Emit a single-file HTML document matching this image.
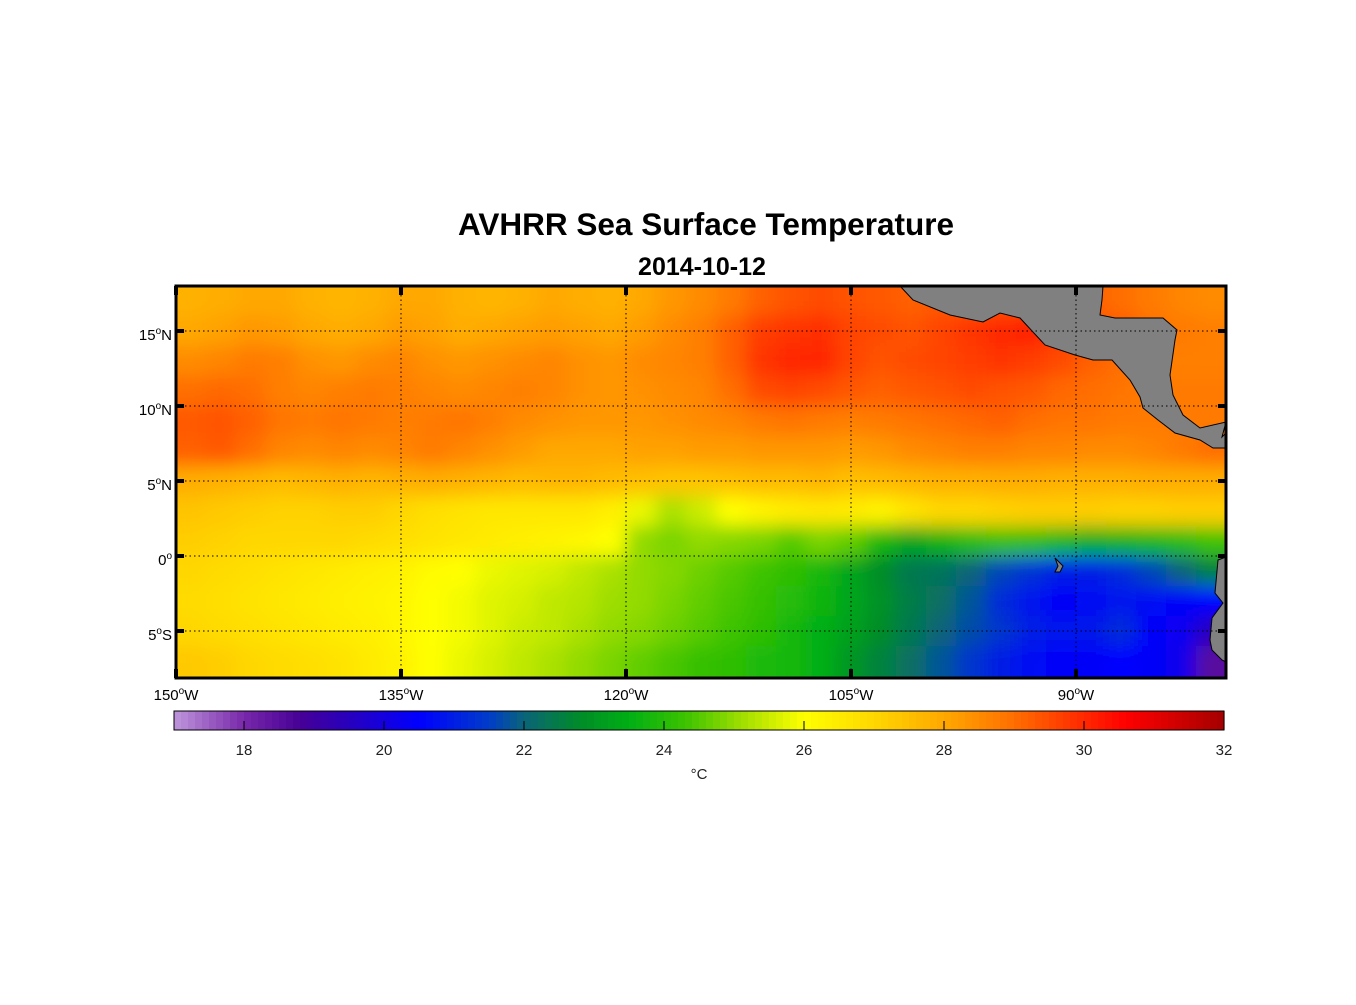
<!DOCTYPE html>
<html><head><meta charset="utf-8"><style>
body{margin:0;background:#fff;width:1356px;height:1000px;overflow:hidden;font-family:"Liberation Sans",Arial,sans-serif}
</style></head><body>
<svg id="chart" width="1356" height="1000" xmlns="http://www.w3.org/2000/svg" font-family="Liberation Sans, Arial, sans-serif">
<defs>
<clipPath id="plotclip"><rect x="176" y="286" width="1050" height="392"/></clipPath>
<filter id="blur" x="-5%" y="-5%" width="110%" height="110%"><feGaussianBlur stdDeviation="9"/></filter>
</defs>
<text x="706" y="235" text-anchor="middle" font-size="31.5" font-weight="bold">AVHRR Sea Surface Temperature</text>
<text x="702" y="275" text-anchor="middle" font-size="25" font-weight="bold">2014-10-12</text>
<g clip-path="url(#plotclip)"><g id="heat" filter="url(#blur)"></g></g>
<g id="land">
<polygon fill="#808080" stroke="#000" stroke-width="1" points="900,286 913,300 950,315 983,322 1000,313 1020,318 1045,345 1075,355 1093,360 1112,360 1130,380 1140,397 1143,408 1158,420 1175,433 1200,440 1213,448 1226,448 1226,433 1222,437 1226,422 1200,428 1183,415 1173,395 1170,375 1175,340 1177,330 1163,318 1137,318 1115,318 1100,315 1102,300 1103,286"/>
<polygon fill="#808080" stroke="#000" stroke-width="1" points="1226,557 1218,560 1215,593 1223,603 1212,618 1210,640 1212,650 1222,660 1226,662"/>
<polygon fill="#808080" stroke="#000" stroke-width="1" points="1055,558 1063,566 1060,572 1055,572 1058,566"/>
</g>
<g id="grid" stroke="#000" stroke-width="1" stroke-dasharray="1.5,3"></g>
<g id="axes"></g>
<rect x="176" y="286" width="1050" height="392" fill="none" stroke="#000" stroke-width="3"/>
<g id="cbar"></g>
<text x="699" y="779" text-anchor="middle" font-size="15" fill="#222">°C</text>
</svg>
<script>
const lonEdges=[-150,-80], latTop=18, cell=2;
const latTicks=[15,10,5,0,-5];
const latLabels=["15","10","5","0","5"];
const latSuffix=["N","N","N","",'S'];
const lonTicks=[-150,-135,-120,-105,-90];
const lonLabels=["150","135","120","105","90"];
const cbarTicks=[18,20,22,24,26,28,30,32];
const r0=[27.8,27.9,28,28,27.8,27.7,27.8,28,28,27.8,27.7,27.8,28,27.9,27.8,28,28.3,28.5,28.8,29.2,29.4,29.5,29.4,29.3,29.2,29.3,29.3,29.4,29.5,29.5,29.2,29,28.8,28.6,28.5];
const r1=[28,28.1,28.3,28.2,28,27.9,28,28.2,28.1,27.9,28,28.1,28.2,28.1,28,28.2,28.5,28.7,29.2,29.7,29.8,29.9,29.6,29.5,29.4,29.6,29.8,30,30.1,29.8,29.5,29.3,29,28.8,28.7];
const r2=[28.5,28.6,28.8,28.7,28.4,28.3,28.5,28.6,28.4,28.3,28.4,28.5,28.6,28.4,28.3,28.5,28.6,28.7,29.2,29.8,30,30,29.6,29.4,29.5,29.6,29.7,29.8,29.7,29.5,29.2,29,28.8,28.7,28.7];
const r3=[29,29.1,29,28.7,28.6,28.7,28.8,28.7,28.6,28.5,28.6,28.7,28.6,28.4,28.3,28.4,28.5,28.6,29,29.5,29.6,29.5,29.3,29.2,29.3,29.4,29.5,29.4,29.3,29.1,29,28.9,28.8,28.8,28.8];
const r4=[29.3,29.4,29.2,28.9,28.8,28.9,28.8,28.7,28.8,28.9,28.7,28.5,28.4,28.3,28.3,28.3,28.4,28.5,28.6,28.8,28.9,28.8,28.7,28.8,28.9,29,29.1,29.2,29,28.9,28.9,28.8,28.8,28.8,28.8];
const r5=[29.2,29.3,29,28.6,28.5,28.6,28.5,28.6,28.8,28.6,28.4,28.2,28,28,28,28.1,28.1,28.2,28.2,28.3,28.3,28.3,28.2,28.3,28.5,28.6,28.7,28.7,28.6,28.6,28.5,28.5,28.6,28.8,29];
const r6=[27.9,27.8,27.7,27.6,27.7,27.8,27.7,27.8,27.9,27.8,27.7,27.6,27.7,27.7,27.6,27.5,27.4,27.4,27.5,27.6,27.6,27.7,27.5,27.6,27.7,27.8,27.8,27.9,27.9,27.8,27.8,27.8,27.9,27.9,27.9];
const r7=[27.4,27.3,27.2,27.1,27.1,27.2,27.2,27,26.8,26.7,26.6,26.6,26.6,26.6,26.4,25.8,25.2,25.5,26,26.3,26.5,26.6,26.5,26.3,26.7,27,27,27.1,27.2,27.2,27.2,27.1,27.1,27.2,27.2];
const r8=[27.2,27.1,27,27,27,27,26.9,26.8,26.7,26.6,26.5,26.4,26.3,26.2,26,25,24.8,25,24.9,24.8,24.5,24.8,24.6,23.8,23.3,23.6,24,24.2,24.1,23.8,23.5,23.6,23.8,24,24.3];
const r9=[27,26.9,26.8,26.7,26.6,26.5,26.4,26.3,26.1,26,25.8,25.7,25.6,25.4,25.2,25,24.9,24.7,24.5,24.3,24.1,23.8,23.3,22.8,22.4,22.3,22,21.6,21.3,21,21,21.2,21.6,22,22.6];
const r10=[26.9,26.8,26.7,26.6,26.5,26.4,26.3,26.2,26,25.9,25.7,25.6,25.4,25.3,25.1,25,24.8,24.6,24.4,24.2,24,23.7,23.3,22.9,22.5,22.2,21.8,21.2,20.8,20.6,20.7,20.8,20.7,20.6,20.5];
const r11=[27,26.9,26.8,26.7,26.6,26.5,26.4,26.2,26,25.9,25.7,25.5,25.4,25.2,25,24.9,24.7,24.5,24.3,24.1,23.8,23.5,23.2,22.8,22.4,22,21.7,21.4,21,20.8,20.9,21.2,20.6,20.3,19.5];
const r12=[27.3,27.2,27,26.9,26.8,26.7,26.5,26.3,26,25.8,25.6,25.4,25.2,25,24.8,24.6,24.4,24.2,24.1,23.9,23.8,23.5,23,22.6,22.2,21.8,21.4,21,20.7,20.6,20.6,20.5,20.6,20.2,18.5];
const rows=[r0,r1,r2,r3,r4,r5,r6,r7,r8,r9,r10,r11,r12];

const NS="http://www.w3.org/2000/svg";
const X0=176,X1=1226,Y0=286,Y1=678;
const xLon=l=>X0+(l-lonEdges[0])*(X1-X0)/(lonEdges[1]-lonEdges[0]);
const yLat=l=>Y0+(latTop-l)*15;
const CB0=174,CB1=1224,vmin=17,vmax=32;
const xVal=v=>CB0+(v-vmin)*(CB1-CB0)/(vmax-vmin);
const stops=[[17,[190,150,220]],[18,[120,40,170]],[18.8,[70,0,150]],[19.5,[40,0,190]],[20.5,[0,0,255]],[21.5,[0,60,200]],[22,[10,100,120]],[22.8,[0,140,40]],[23.5,[0,175,20]],[24.3,[60,195,0]],[25.2,[170,225,0]],[26,[255,255,0]],[27,[255,215,0]],[28,[255,168,0]],[29,[255,110,0]],[30,[255,40,0]],[30.6,[255,0,0]],[32,[165,0,0]]];
function col(v){
  if(v<=stops[0][0])return `rgb(${stops[0][1]})`;
  for(let i=1;i<stops.length;i++){if(v<=stops[i][0]){const a=stops[i-1],b=stops[i],t=(v-a[0])/(b[0]-a[0]);return `rgb(${a[1].map((c,k)=>Math.round(c+(b[1][k]-c)*t)).join(',')})`;}}
  return `rgb(${stops[stops.length-1][1]})`;
}
function mk(tag,attrs,parent){const e=document.createElementNS(NS,tag);for(const k in attrs)e.setAttribute(k,attrs[k]);parent.appendChild(e);return e;}
const heat=document.getElementById('heat');
rows.forEach((row,ri)=>{
  row.forEach((v,ci)=>{
    const lon=lonEdges[0]+ci*cell, lat=latTop-ri*cell;
    let x=xLon(lon), w=xLon(lon+cell)-x, y=yLat(lat), h=yLat(lat-cell)-y;
    if(ci===0){x-=30;w+=30;} if(ci===row.length-1)w+=30;
    if(ri===0){y-=30;h+=30;} if(ri===rows.length-1)h+=40;
    const r=mk('rect',{x:x,y:y,width:w+0.5,height:h+0.5,fill:col(v)},heat);
    
    
  });
});
const grid=document.getElementById('grid'),axes=document.getElementById('axes');
latTicks.forEach((l,i)=>{
  const y=yLat(l);
  const g=mk('line',{x1:X0,x2:X1,y1:y,y2:y},grid);
  
  
  mk('line',{x1:X0,x2:X0+8,y1:y,y2:y,stroke:'#000','stroke-width':4},axes);
  mk('line',{x1:X1-8,x2:X1,y1:y,y2:y,stroke:'#000','stroke-width':4},axes);
  const t=mk('text',{x:X0-4,y:y+9,'text-anchor':'end','font-size':15},axes);
  
  
  t.innerHTML=latLabels[i]+'<tspan dy="-6" font-size="10">o</tspan><tspan dy="6">'+latSuffix[i]+'</tspan>';
});
lonTicks.forEach((l,i)=>{
  const x=xLon(l);
  const g=mk('line',{x1:x,x2:x,y1:Y0,y2:Y1},grid);
  
  
  mk('line',{x1:x,x2:x,y1:Y0,y2:Y0+9,stroke:'#000','stroke-width':4},axes);
  mk('line',{x1:x,x2:x,y1:Y1-9,y2:Y1,stroke:'#000','stroke-width':4},axes);
  const t=mk('text',{x:x,y:Y1+22,'text-anchor':'middle','font-size':15},axes);
  
  
  t.innerHTML=lonLabels[i]+'<tspan dy="-6" font-size="10">o</tspan><tspan dy="6">W</tspan>';
});
const cb=document.getElementById('cbar');
const nSeg=150;
for(let i=0;i<nSeg;i++){
  const v0=vmin+(vmax-vmin)*i/nSeg, v1=vmin+(vmax-vmin)*(i+1)/nSeg;
  const r=mk('rect',{x:xVal(v0),y:711,width:xVal(v1)-xVal(v0)+0.6,height:19,fill:col((v0+v1)/2)},cb);
  
  
}
mk('rect',{x:CB0,y:711,width:CB1-CB0,height:19,fill:'none',stroke:'#000','stroke-width':1},cb);
cbarTicks.forEach(v=>{
  const x=xVal(v);
  mk('line',{x1:x,x2:x,y1:721,y2:730,stroke:'#000','stroke-width':1},cb);
  const t=mk('text',{x:x,y:755,'text-anchor':'middle','font-size':15,fill:'#222'},cb);
  
  
  t.textContent=v;
});
</script>
</body></html>
